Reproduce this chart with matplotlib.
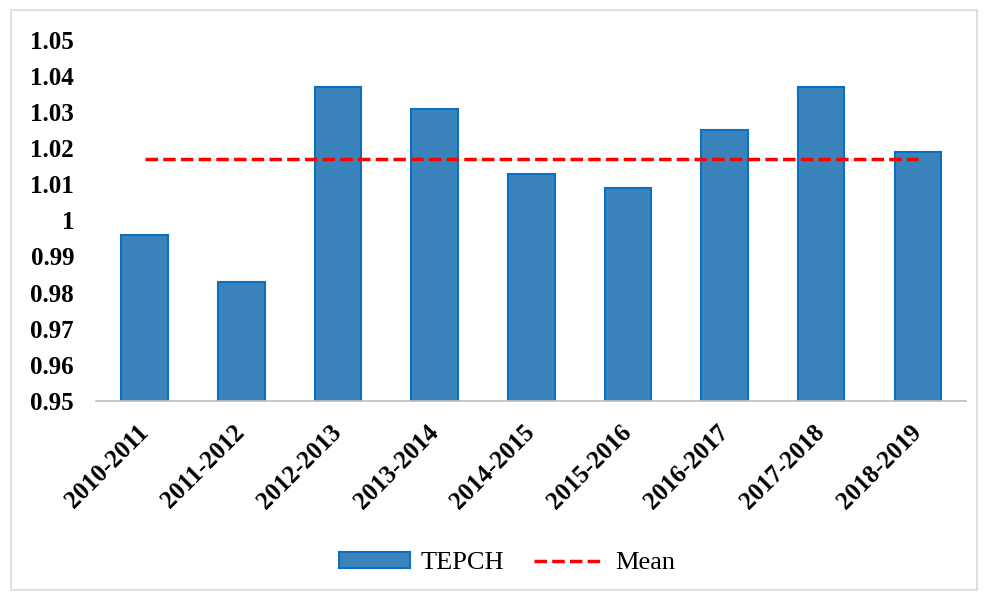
import matplotlib.pyplot as plt
from matplotlib.patches import Rectangle

periods = ["2010-2011", "2011-2012", "2012-2013", "2013-2014", "2014-2015",
           "2015-2016", "2016-2017", "2017-2018", "2018-2019"]
tepch = [0.996, 0.983, 1.037, 1.031, 1.013, 1.009, 1.025, 1.037, 1.019]
mean_val = 1.017
mean_line = [mean_val] * len(periods)
yticks = [0.95, 0.96, 0.97, 0.98, 0.99, 1.00, 1.01, 1.02, 1.03, 1.04, 1.05]
ytick_labels = ["0.95", "0.96", "0.97", "0.98", "0.99", "1",
                "1.01", "1.02", "1.03", "1.04", "1.05"]

plt.rcParams['font.family'] = ['Liberation Serif', 'DejaVu Serif']

fig = plt.figure(figsize=(9.83, 5.99), dpi=100)
fig.patches.append(Rectangle((0.011, 0.015), 0.983, 0.968, transform=fig.transFigure,
                             fill=False, edgecolor='#d9d9d9', linewidth=1.2))
ax = fig.add_axes([0.098, 0.331, 0.885, 0.602])

x = list(range(len(periods)))
bars = ax.bar(x, tepch, width=0.48, color='#3a84bb', edgecolor='#0a70c4',
              linewidth=1.5, label='TEPCH', zorder=2)
line, = ax.plot(x, mean_line, color='red', linestyle=(0, (3.6, 1.5)),
                linewidth=2.5, label='Mean', zorder=3)

ax.set_xlim(-0.5, len(periods) - 0.5)
ax.set_ylim(0.95, 1.05)
ax.set_yticks(yticks)
ax.set_yticklabels(ytick_labels, fontsize=18, fontweight='bold')
ax.set_xticks(x)
ax.set_xticklabels(periods, fontsize=18, fontweight='bold', rotation=45,
                   ha='right', va='center', rotation_mode='anchor')
ax.tick_params(axis='x', length=0, pad=20)
ax.tick_params(axis='y', length=0, pad=16)
for s in ['top', 'right', 'left']:
    ax.spines[s].set_visible(False)
ax.spines['bottom'].set_color('#bfbfbf')
ax.spines['bottom'].set_linewidth(1.2)

fig.legend([bars, line], ['TEPCH', 'Mean'], loc='center',
           bbox_to_anchor=(0.516, 0.06), ncol=2, frameon=False,
           fontsize=19, handlelength=2.7, handletextpad=0.38,
           columnspacing=1.14, handleheight=0.6)

fig.savefig('out.png', dpi=100)
